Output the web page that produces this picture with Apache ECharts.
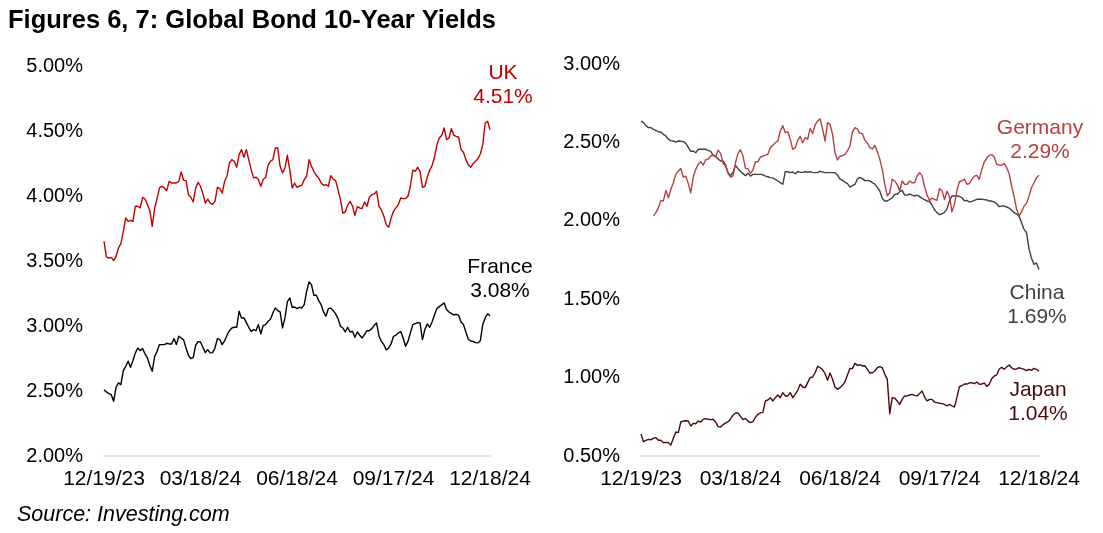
<!DOCTYPE html>
<html>
<head>
<meta charset="utf-8">
<script src="https://cdn.jsdelivr.net/npm/echarts@6/dist/echarts.min.js"></script>
<style>
html,body{margin:0;padding:0;background:#fff;}
#chart{width:1103px;height:533px;}
</style>
</head>
<body>
<div id="chart"></div>
<script>
// Tick labels shown on both x axes (evenly spaced over the sampled points)
const tickLabels = ['12/19/23', '03/18/24', '06/18/24', '09/17/24', '12/18/24'];

// UK 10Y yield (%) at 161 evenly spaced dates
const uk = [
3.652,3.531,3.523,3.528,3.503,3.536,3.600,3.634,3.728,3.831,3.805,3.813,3.805,3.921,3.921,3.908,3.990,3.977,3.934,3.887,
3.767,3.908,3.980,4.062,4.075,4.062,4.041,4.113,4.100,4.100,4.100,4.113,4.185,4.121,4.118,4.010,3.990,3.954,4.062,4.105,
4.075,4.018,3.946,3.977,3.946,3.936,3.959,4.067,4.057,4.023,4.113,4.152,4.254,4.280,4.267,4.221,4.318,4.357,4.298,4.357,
4.280,4.203,4.139,4.144,4.126,4.075,4.126,4.144,4.236,4.267,4.280,4.369,4.370,4.228,4.177,4.216,4.313,4.203,4.062,4.100,
4.067,4.077,4.082,4.126,4.152,4.280,4.228,4.190,4.159,4.139,4.100,4.082,4.087,4.075,4.157,4.131,4.118,4.049,3.972,3.869,
3.877,3.928,3.959,3.923,3.851,3.918,3.908,3.903,3.954,3.921,3.990,4.010,4.016,4.036,3.921,3.893,3.844,3.780,3.759,3.831,
3.882,3.908,3.934,3.985,3.980,3.980,3.998,4.075,4.200,4.190,4.221,4.190,4.067,4.075,4.144,4.198,4.234,4.300,4.395,4.446,
4.467,4.523,4.434,4.446,4.518,4.467,4.459,4.452,4.357,4.336,4.280,4.241,4.221,4.249,4.267,4.287,4.323,4.395,4.560,4.575,
4.51];

// France 10Y yield (%)
const france = [
2.510,2.493,2.480,2.472,2.421,2.529,2.562,2.549,2.657,2.690,2.729,2.682,2.734,2.793,2.831,2.811,2.826,2.785,2.754,2.698,
2.652,2.767,2.805,2.857,2.857,2.857,2.867,2.862,2.862,2.903,2.857,2.921,2.908,2.893,2.831,2.775,2.749,2.759,2.852,2.880,
2.877,2.836,2.795,2.818,2.793,2.795,2.831,2.903,2.895,2.857,2.887,2.929,2.964,2.985,2.990,2.990,3.113,3.062,3.062,3.026,
2.990,2.959,2.972,2.964,3.011,2.939,3.005,3.011,3.036,3.052,3.100,3.139,3.118,3.108,2.985,3.062,3.185,3.216,3.144,3.146,
3.134,3.144,3.139,3.164,3.267,3.339,3.318,3.236,3.236,3.195,3.164,3.108,3.075,3.134,3.139,3.118,3.093,3.057,2.998,2.985,
2.954,2.990,2.954,2.959,2.913,2.954,2.929,2.908,2.934,2.964,2.964,2.980,3.005,3.023,2.921,2.882,2.857,2.816,2.831,2.862,
2.921,2.929,2.946,2.957,2.908,2.844,2.882,2.946,3.011,3.018,3.026,3.023,2.895,2.972,3.016,2.990,3.031,3.087,3.134,3.149,
3.164,3.177,3.126,3.108,3.095,3.085,3.090,3.082,3.031,3.011,2.954,2.898,2.885,2.882,2.872,2.870,2.887,3.011,3.062,3.093,
3.08];

// Germany 10Y yield (%), series begins a few days after the others
const germany = [
null,null,null,null,null,2.031,2.052,2.084,2.130,2.126,2.194,2.147,2.200,2.243,2.296,2.318,2.334,2.279,2.285,2.237,
2.179,2.279,2.328,2.360,2.377,2.356,2.388,2.394,2.413,2.417,2.407,2.451,2.430,2.366,2.349,2.303,2.279,2.286,2.371,2.430,
2.453,2.413,2.334,2.332,2.302,2.324,2.377,2.377,2.407,2.413,2.419,2.424,2.466,2.481,2.498,2.509,2.572,2.607,2.562,2.568,
2.519,2.456,2.466,2.513,2.538,2.498,2.530,2.520,2.589,2.556,2.611,2.636,2.650,2.585,2.509,2.626,2.615,2.551,2.434,2.388,
2.413,2.415,2.424,2.447,2.477,2.566,2.594,2.585,2.558,2.556,2.513,2.496,2.466,2.458,2.481,2.441,2.392,2.328,2.232,2.160,
2.179,2.264,2.254,2.230,2.190,2.254,2.232,2.233,2.254,2.243,2.243,2.286,2.307,2.288,2.217,2.164,2.130,2.145,2.137,2.130,
2.205,2.192,2.135,2.188,2.158,2.058,2.105,2.194,2.249,2.254,2.266,2.233,2.237,2.264,2.285,2.290,2.264,2.328,2.375,2.400,
2.417,2.422,2.407,2.360,2.356,2.354,2.366,2.339,2.300,2.222,2.154,2.073,2.030,2.058,2.094,2.111,2.158,2.211,2.243,2.275,
2.29];

// China 10Y yield (%)
const china = [
2.636,2.626,2.607,2.594,2.594,2.583,2.577,2.568,2.566,2.551,2.541,2.519,2.511,2.509,2.502,2.509,2.507,2.505,2.494,2.469,
2.443,2.445,2.434,2.456,2.456,2.456,2.456,2.449,2.443,2.417,2.411,2.394,2.381,2.381,2.356,2.307,2.288,2.311,2.354,2.332,
2.315,2.301,2.288,2.303,2.285,2.296,2.296,2.296,2.296,2.294,2.285,2.281,2.275,2.273,2.264,2.254,2.243,2.233,2.313,2.313,
2.307,2.311,2.300,2.315,2.309,2.309,2.313,2.309,2.313,2.309,2.307,2.307,2.317,2.311,2.307,2.307,2.307,2.307,2.307,2.292,
2.266,2.258,2.247,2.237,2.215,2.224,2.232,2.267,2.277,2.269,2.256,2.258,2.254,2.243,2.234,2.213,2.190,2.143,2.126,2.126,
2.137,2.147,2.169,2.169,2.186,2.194,2.164,2.164,2.171,2.164,2.158,2.164,2.154,2.143,2.135,2.126,2.122,2.101,2.069,2.052,
2.039,2.045,2.054,2.077,2.126,2.158,2.158,2.158,2.156,2.147,2.128,2.130,2.120,2.124,2.130,2.137,2.137,2.137,2.135,2.133,
2.126,2.126,2.120,2.109,2.090,2.094,2.094,2.088,2.081,2.067,2.052,2.043,2.030,1.988,1.945,1.924,1.818,1.761,1.722,1.731,
1.69];

// Japan 10Y yield (%)
const japan = [
0.640,0.591,0.600,0.606,0.604,0.613,0.617,0.600,0.600,0.585,0.587,0.585,0.570,0.613,0.653,0.649,0.717,0.723,0.725,0.723,
0.691,0.708,0.706,0.723,0.717,0.734,0.738,0.734,0.732,0.734,0.717,0.687,0.685,0.700,0.710,0.719,0.736,0.761,0.774,0.774,
0.753,0.732,0.740,0.723,0.713,0.719,0.747,0.766,0.776,0.778,0.851,0.857,0.872,0.851,0.872,0.889,0.872,0.904,0.883,0.883,
0.904,0.872,0.893,0.919,0.957,0.940,0.936,0.968,1.000,1.004,1.031,1.072,1.063,1.051,1.025,0.983,1.029,0.989,0.940,0.925,
0.936,0.951,0.974,1.017,1.059,1.057,1.091,1.078,1.082,1.074,1.076,1.053,1.029,1.031,1.042,1.063,1.070,1.063,1.021,0.990,
0.770,0.872,0.868,0.851,0.829,0.861,0.883,0.883,0.889,0.893,0.887,0.883,0.898,0.914,0.876,0.851,0.861,0.861,0.844,0.840,
0.836,0.834,0.829,0.819,0.829,0.819,0.812,0.872,0.942,0.948,0.959,0.959,0.966,0.968,0.961,0.972,0.957,0.959,0.966,0.944,
0.957,0.993,1.010,1.017,1.055,1.065,1.053,1.068,1.080,1.063,1.053,1.055,1.063,1.057,1.053,1.044,1.053,1.046,1.059,1.053,
1.04];

const categories = uk.map((_, i) => i);
const labelStep = (uk.length - 1) / (tickLabels.length - 1);

const FONT = '"Liberation Sans", Arial, sans-serif';
const pct = v => v.toFixed(2) + '%';

function xAxis(gridIndex) {
  return {
    type: 'category', gridIndex, data: categories, boundaryGap: false,
    axisLine: { lineStyle: { color: '#D9D9D9', width: 1.5 } },
    axisTick: { show: false },
    axisLabel: {
      interval: (idx) => idx % labelStep === 0, margin: 13, color: '#000', fontSize: 21, fontFamily: FONT,
      formatter: (v, idx) => tickLabels[Math.round(idx / labelStep)] || '',
      showMaxLabel: true, hideOverlap: false
    },
    splitLine: { show: false }
  };
}
function yAxis(gridIndex, min, max) {
  return {
    type: 'value', gridIndex, min, max, interval: 0.5,
    axisLine: { show: false }, axisTick: { show: false }, splitLine: { show: false },
    axisLabel: { formatter: pct, color: '#000', fontSize: 20, fontFamily: FONT, margin: 21 }
  };
}
function line(name, data, color, idx) {
  return {
    name, type: 'line', data, xAxisIndex: idx, yAxisIndex: idx,
    symbol: 'none', smooth: false, connectNulls: false,
    lineStyle: { color, width: 1.4, join: 'round' }, itemStyle: { color }, z: 3
  };
}
function note(text, x, y, color) {
  return {
    type: 'text', x, y, z: 10,
    style: { text, fill: color, font: '21px ' + FONT, align: 'center', verticalAlign: 'top', lineHeight: 24 }
  };
}

const chart = echarts.init(document.getElementById('chart'), null, { renderer: 'canvas' });
chart.setOption({
  animation: false,
  backgroundColor: '#fff',
  title: {
    text: 'Figures 6, 7: Global Bond 10-Year Yields', left: 3, top: 3,
    textStyle: { fontSize: 25.5, fontWeight: 'bold', color: '#000', fontFamily: FONT }
  },
  grid: [
    { left: 104, top: 66, width: 386, height: 390 },
    { left: 641, top: 64, width: 398, height: 392 }
  ],
  xAxis: [xAxis(0), xAxis(1)],
  yAxis: [yAxis(0, 2, 5), yAxis(1, 0.5, 3)],
  series: [
    line('UK', uk, '#C00000', 0),
    line('France', france, '#000000', 0),
    line('China', china, '#404040', 1),
    line('Germany', germany, '#B5403F', 1),
    line('Japan', japan, '#4A0A0A', 1)
  ],
  graphic: [
    note('UK\n4.51%', 503, 61, '#C00000'),
    note('France\n3.08%', 500, 255, '#000000'),
    note('Germany\n2.29%', 1040, 116, '#B5403F'),
    note('China\n1.69%', 1037, 281, '#404040'),
    note('Japan\n1.04%', 1038, 378, '#4A0A0A'),
    { type: 'text', x: 17, y: 504, style: { text: 'Source: Investing.com', fill: '#000', font: 'italic 21.5px ' + FONT } }
  ]
});
</script>
</body>
</html>
